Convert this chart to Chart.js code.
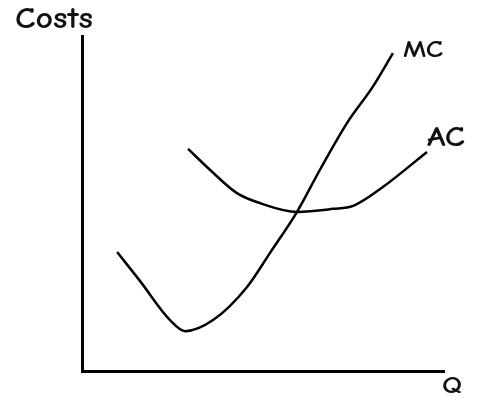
<!DOCTYPE html>
<html>
<head>
<meta charset="utf-8">
<script src="https://cdn.jsdelivr.net/npm/chart.js@4"></script>
<style>
  html, body { margin: 0; padding: 0; background: #fff; }
  #wrap { width: 500px; height: 406px; }
</style>
</head>
<body>
<div id="wrap"><canvas id="c"></canvas></div>
<script>
// quantity / cost values (axis runs 0..10 both ways)
const mcQ = [0.97, 1.60, 2.43, 2.85, 3.62, 4.56, 5.19, 5.94, 6.57, 7.32, 8.03, 8.59]
const mcCost = [3.55, 2.69, 1.52, 1.19, 1.52, 2.51, 3.52, 4.75, 6.00, 7.40, 8.48, 9.49]

const acQ = [2.93, 3.54, 4.28, 4.92, 5.94, 6.93, 7.49, 8.31, 9.53]
const acCost = [6.63, 6.00, 5.31, 5.01, 4.75, 4.84, 4.93, 5.49, 6.54]

const axisLabels = { y: 'Costs', x: 'Q' }
const curveLabels = ['MC', 'AC']

const toPoints = (xs, ys) => xs.map((x, i) => ({ x, y: ys[i] }))

const handFont = '"Comic Neue", "Open Sans", sans-serif'

// draw text squeezed/stretched to a given width, like the marker lettering
function fitText(ctx, text, x, y, width, size) {
  ctx.font = 'bold ' + size + 'px ' + handFont
  const w = ctx.measureText(text).width
  ctx.save()
  ctx.translate(x, y)
  ctx.scale(width / w, 1)
  ctx.fillText(text, 0, 0)
  ctx.restore()
}

const labelsPlugin = {
  id: 'sketchLabels',
  afterDraw(chart) {
    const { ctx, chartArea } = chart
    ctx.save()
    ctx.fillStyle = '#111'
    ctx.textBaseline = 'alphabetic'
    ctx.textAlign = 'left'

    fitText(ctx, axisLabels.y, 15, 28, 78, 30)
    fitText(ctx, axisLabels.x, chartArea.right - 2, chartArea.bottom + 22, 20, 24)

    // curve names sit just past each curve's last point
    const offsets = [[10, 4, 40, 24], [0, -6, 38, 28]]
    chart.data.datasets.forEach((ds, i) => {
      const last = ds.data[ds.data.length - 1]
      const px = chart.scales.x.getPixelForValue(last.x)
      const py = chart.scales.y.getPixelForValue(last.y)
      const [dx, dy, w, size] = offsets[i]
      fitText(ctx, curveLabels[i], px + dx, py + dy, w, size)
    })
    ctx.restore()
  },
}

new Chart(document.getElementById('c'), {
  type: 'scatter',
  data: {
    datasets: [
      {
        label: curveLabels[0],
        data: toPoints(mcQ, mcCost),
        showLine: true,
        borderColor: '#000',
        borderWidth: 2.5,
        pointRadius: 0,
        cubicInterpolationMode: 'monotone',
      },
      {
        label: curveLabels[1],
        data: toPoints(acQ, acCost),
        showLine: true,
        borderColor: '#000',
        borderWidth: 2.5,
        pointRadius: 0,
        cubicInterpolationMode: 'monotone',
      },
    ],
  },
  options: {
    responsive: true,
    maintainAspectRatio: false,
    animation: false,
    layout: { padding: { left: 82, right: 56, top: 36, bottom: 35 } },
    plugins: {
      legend: { display: false },
      tooltip: { enabled: false },
    },
    scales: {
      x: {
        type: 'linear',
        min: 0,
        max: 10,
        grid: { display: false, drawTicks: false },
        ticks: { display: false },
        border: { display: true, color: '#000', width: 3 },
        afterFit: (s) => { s.height = 0 },
      },
      y: {
        type: 'linear',
        min: 0,
        max: 10,
        grid: { display: false, drawTicks: false },
        ticks: { display: false },
        border: { display: true, color: '#000', width: 3 },
        afterFit: (s) => { s.width = 0 },
      },
    },
  },
  plugins: [labelsPlugin],
})
</script>
</body>
</html>
